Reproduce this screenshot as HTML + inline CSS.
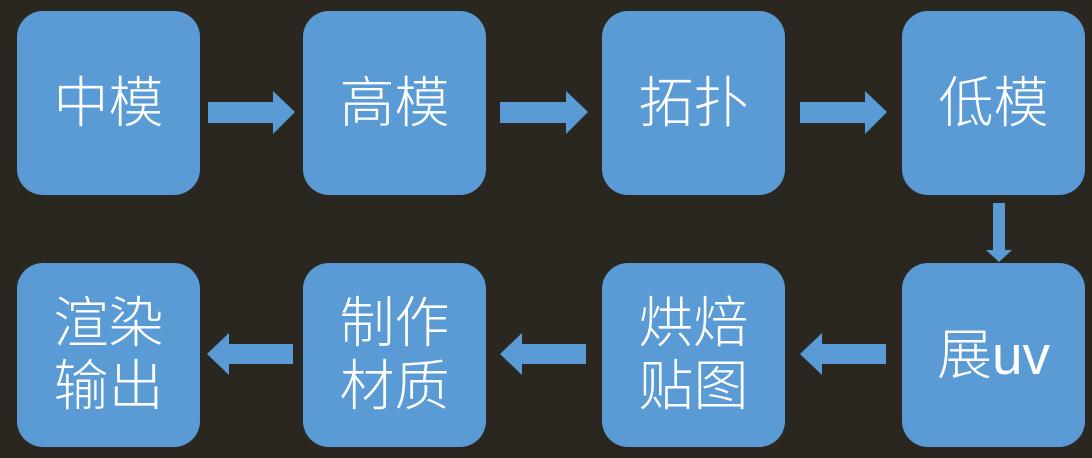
<!DOCTYPE html>
<html><head><meta charset="utf-8"><style>
html,body{margin:0;padding:0;background:#2a2720;width:1092px;height:458px;overflow:hidden;position:relative}
.b{position:absolute;width:183px;height:184px;background:#5b9bd5;border-radius:26px;display:flex;align-items:center;justify-content:center;text-align:center;color:#fff;font-family:"Liberation Sans","Noto Sans CJK SC",sans-serif;font-weight:300;font-size:55px;line-height:63px}
svg{position:absolute;left:0;top:0}
</style></head><body>
<div class="b" style="left:17px;top:11px">中模</div>
<div class="b" style="left:303px;top:11px">高模</div>
<div class="b" style="left:602px;top:11px">拓扑</div>
<div class="b" style="left:902px;top:11px">低模</div>
<div class="b" style="left:17px;top:263px">渲染<br>输出</div>
<div class="b" style="left:303px;top:263px">制作<br>材质</div>
<div class="b" style="left:602px;top:263px">烘焙<br>贴图</div>
<div class="b" style="left:902px;top:263px">展uv</div>
<svg width="1092" height="458" fill="#5b9bd5">
<polygon points="208,102 273,102 273,91 295,112 273,134 273,123 208,123"/>
<polygon points="500,102 566,102 566,91 588,112 566,134 566,123 500,123"/>
<polygon points="800,102 865,102 865,91 887,112 865,134 865,123 800,123"/>
<polygon points="993,203 1005,203 1005,250 1012,250 999,262 986,250 993,250"/>
<polygon points="293,344 229,344 229,333 207,354 229,375 229,364 293,364"/>
<polygon points="586,344 522,344 522,333 500,354 522,375 522,364 586,364"/>
<polygon points="886,344 822,344 822,333 800,354 822,375 822,364 886,364"/>
</svg>
</body></html>
